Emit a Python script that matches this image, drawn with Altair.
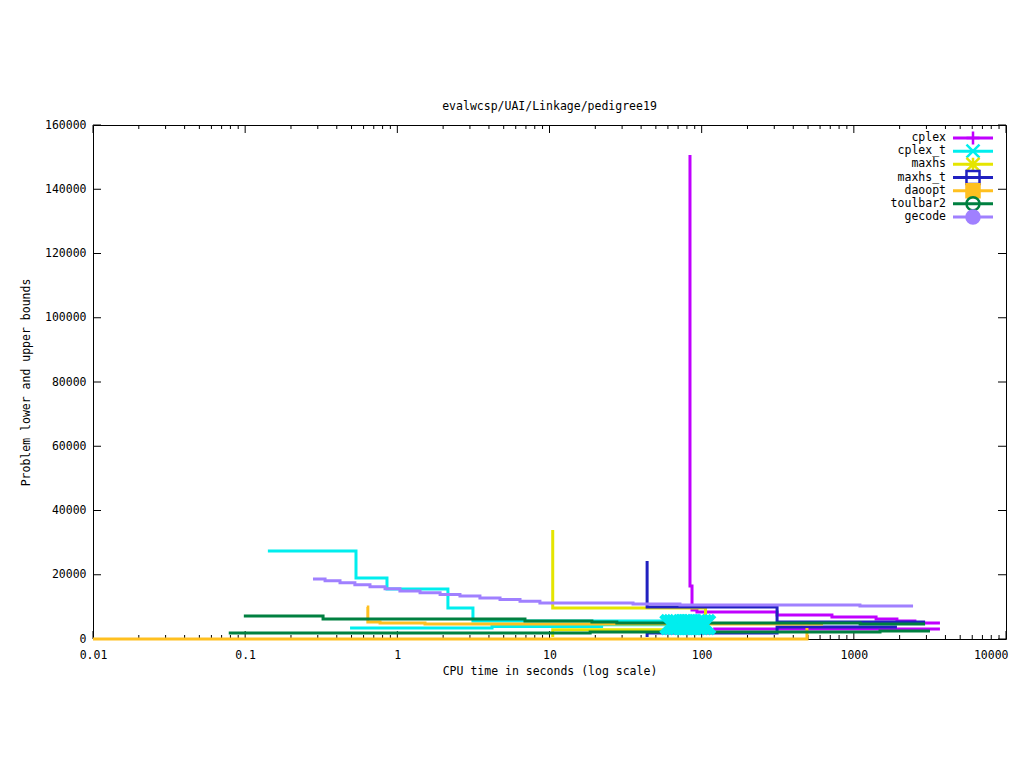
import altair as alt
import pandas as pd

FONT = "DejaVu Sans Mono"
FS = 11.5

names = ["cplex", "cplex_t", "maxhs", "maxhs_t", "daoopt", "toulbar2", "gecode"]
colors = ["#c000ff", "#00eeee", "#e5e500", "#2020c0", "#ffc020", "#008040", "#a080ff"]

# step series: time (s) and bound value, upper (ub) and lower (lb)
cplex_ub_t = [83.8, 83.8, 86.4, 93.1, 313, 718, 1400, 1920, 2520, 3680]
cplex_ub_v = [150700, 16500, 9000, 8400, 7470, 6850, 6230, 5600, 4980, 4980]
cplex_lb_t = [119, 3680]
cplex_lb_v = [3110, 3110]

cplex_t_ub_t = [0.141, 0.535, 0.855, 2.15, 3.14, 62]
cplex_t_ub_v = [27400, 19000, 15560, 9650, 5600, 5600]
cplex_t_lb_t = [0.489, 4.19, 22, 62]
cplex_t_lb_v = [3420, 3900, 4400, 4400]
cplex_t_pt_t = [62, 65, 68, 71, 75, 79, 83, 87, 92, 96, 101, 106]
cplex_t_pt_v = [4500, 4500, 4500, 4500, 4500, 4500, 4500, 4500, 4500, 4500, 4500, 4500]

maxhs_ub_t = [10.5, 10.5, 106]
maxhs_ub_v = [33900, 9650, 2800]
maxhs_lb_t = [10.5, 10.5, 106]
maxhs_lb_v = [600, 2900, 2900]

maxhs_t_ub_t = [43.8, 43.8, 313, 2940]
maxhs_t_ub_v = [24300, 9960, 5300, 5300]
maxhs_t_lb_t = [43.8, 43.8, 313, 1920]
maxhs_t_lb_v = [600, 1870, 3730, 3730]

daoopt_ub_t = [0.63, 0.64, 0.77, 1.52, 627]
daoopt_ub_v = [9960, 5290, 4980, 4670, 4670]
daoopt_lb_t = [0.01, 492, 492]
daoopt_lb_v = [0, 0, 3400]

toulbar2_ub_t = [0.098, 0.325, 6.9, 19, 27.7, 1100, 2940]
toulbar2_ub_v = [7160, 6230, 5600, 5290, 4980, 4670, 4670]
toulbar2_lb_t = [0.078, 18.5, 1486, 3165]
toulbar2_lb_v = [1870, 2180, 2490, 2490]

gecode_ub_t = [0.279, 0.335, 0.420, 0.526, 0.661, 0.830, 1.04, 1.41, 1.91, 2.58,
               3.49, 4.73, 6.40, 8.65, 35.4, 72, 1097, 2450]
gecode_ub_v = [18680, 18150, 17520, 16900, 16250, 15630, 14940, 14410, 13880, 13350,
               12790, 12260, 11740, 11210, 10900, 10580, 10270, 10270]

series = {
    "cplex": [(cplex_ub_t, cplex_ub_v), (cplex_lb_t, cplex_lb_v)],
    "cplex_t": [(cplex_t_ub_t, cplex_t_ub_v), (cplex_t_lb_t, cplex_t_lb_v)],
    "maxhs": [(maxhs_ub_t, maxhs_ub_v), (maxhs_lb_t, maxhs_lb_v)],
    "maxhs_t": [(maxhs_t_ub_t, maxhs_t_ub_v), (maxhs_t_lb_t, maxhs_t_lb_v)],
    "daoopt": [(daoopt_ub_t, daoopt_ub_v), (daoopt_lb_t, daoopt_lb_v)],
    "toulbar2": [(toulbar2_ub_t, toulbar2_ub_v), (toulbar2_lb_t, toulbar2_lb_v)],
    "gecode": [(gecode_ub_t, gecode_ub_v)],
}

x_major = [0.01, 0.1, 1, 10, 100, 1000, 10000]
x_minor_mult = [2, 3, 4, 5, 6, 7, 8, 9]
x_minor = [m * d for d in x_major[:-1] for m in x_minor_mult]
y_major = [0, 20000, 40000, 60000, 80000, 100000, 120000, 140000, 160000]

# legend symbols (gnuplot-like point types)
shapes = [
    "M-1,0L1,0M0,-1L0,1",
    "M-1,-1L1,1M1,-1L-1,1",
    "M-1,0L1,0M0,-1L0,1M-1,-1L1,1M1,-1L-1,1",
    "square",
    "square",
    "circle",
    "circle",
]
fills = ["transparent", "transparent", "transparent", "transparent", "#ffc020", "transparent", "#a080ff"]

W, H = 913, 514
xs = alt.Scale(type="log", domain=[0.01, 10000], nice=False)
ys = alt.Scale(domain=[0, 160000], nice=False, zero=False)


def X():
    return alt.X("t:Q", scale=xs,
                 axis=alt.Axis(values=x_major, format="~g", ticks=False, domain=False, grid=False,
                               labelFlush=False, labelOverlap=False, labelPadding=10,
                               labelAlign=alt.expr("datum.value >= 10000 ? 'right' : 'center'"),
                               labelOffset=alt.expr("datum.value >= 10000 ? 2 : 0"),
                               title="CPU time in seconds (log scale)", titlePadding=5))


def Y():
    return alt.Y("v:Q", scale=ys,
                 axis=alt.Axis(values=y_major, format="d", ticks=False, domain=False, grid=False,
                               labelPadding=7, title="Problem lower and upper bounds",
                               titlePadding=13))


layers = []

# tick marks (inside, gnuplot style)
dxmaj = pd.DataFrame({"t": x_major})
dxmin = pd.DataFrame({"t": x_minor})
dy = pd.DataFrame({"v": y_major})
for y0, y1, d in [(H, H - 8, dxmaj), (0, 8, dxmaj), (H, H - 4, dxmin), (0, 4, dxmin)]:
    layers.append(alt.Chart(d).mark_rule(color="black", strokeWidth=1).encode(
        x=X(), y=alt.value(y0), y2=alt.value(y1)))
for x0, x1 in [(0, 8), (W, W - 8)]:
    layers.append(alt.Chart(dy).mark_rule(color="black", strokeWidth=1).encode(
        x=alt.value(x0), x2=alt.value(x1), y=Y()))

for name, col in zip(names, colors):
    rows = []
    for bi, (tt, vv) in enumerate(series[name]):
        for i, (t, v) in enumerate(zip(tt, vv)):
            rows.append({"t": t, "v": v, "bound": bi, "i": i})
    d = pd.DataFrame(rows)
    layers.append(alt.Chart(d).mark_line(interpolate="step-after", strokeWidth=3, color=col).encode(
        x=X(), y=Y(), detail="bound:N", order="i:Q"))

# cplex_t point markers drawn on top of the lines
dp = pd.DataFrame({"t": cplex_t_pt_t, "v": cplex_t_pt_v})
layers.append(alt.Chart(dp).mark_point(shape=shapes[1], size=330, strokeWidth=5,
                                       stroke=colors[1], fill="transparent", opacity=1).encode(
    x=X(), y=Y()))

main = alt.layer(*layers)

# legend (gnuplot key: label left, line sample + symbol right)
dl = pd.DataFrame({"name": names})
ly = alt.Y("name:N", sort=names, scale=alt.Scale(range=[6.4, 98.6]), axis=None)
stroke_enc = alt.Stroke("name:N", scale=alt.Scale(domain=names, range=colors), legend=None)
leg_text = alt.Chart(dl).mark_text(align="right", baseline="middle", font=FONT, fontSize=FS,
                                   color="black").encode(y=ly, x=alt.value(853), text="name:N")
leg_rule = alt.Chart(dl).mark_rule(strokeWidth=3).encode(
    y=ly, x=alt.value(860), x2=alt.value(900), stroke=stroke_enc)
leg_pts = alt.Chart(dl).mark_point(size=170, strokeWidth=2.5, opacity=1).encode(
    y=ly, x=alt.value(880), stroke=stroke_enc,
    shape=alt.Shape("name:N", scale=alt.Scale(domain=names, range=shapes), legend=None),
    fill=alt.Fill("name:N", scale=alt.Scale(domain=names, range=fills), legend=None))
legend = alt.layer(leg_text, leg_rule, leg_pts)

chart = alt.layer(main, legend).resolve_scale(y="independent").properties(
    width=W, height=H,
    title=alt.Title("evalwcsp/UAI/Linkage/pedigree19", font=FONT, fontSize=FS,
                    fontWeight="normal", color="black", anchor="middle", offset=7),
    padding={"left": 85, "top": 117, "right": 10, "bottom": 110},
    autosize=alt.AutoSizeParams(type="none"),
    background="white",
).configure_view(stroke="black", strokeWidth=1).configure_axis(
    labelFont=FONT, labelFontSize=FS, labelColor="black",
    titleFont=FONT, titleFontSize=FS, titleFontWeight="normal", titleColor="black",
)

chart.save("out.html", embed_options={"renderer": "svg", "actions": False})
